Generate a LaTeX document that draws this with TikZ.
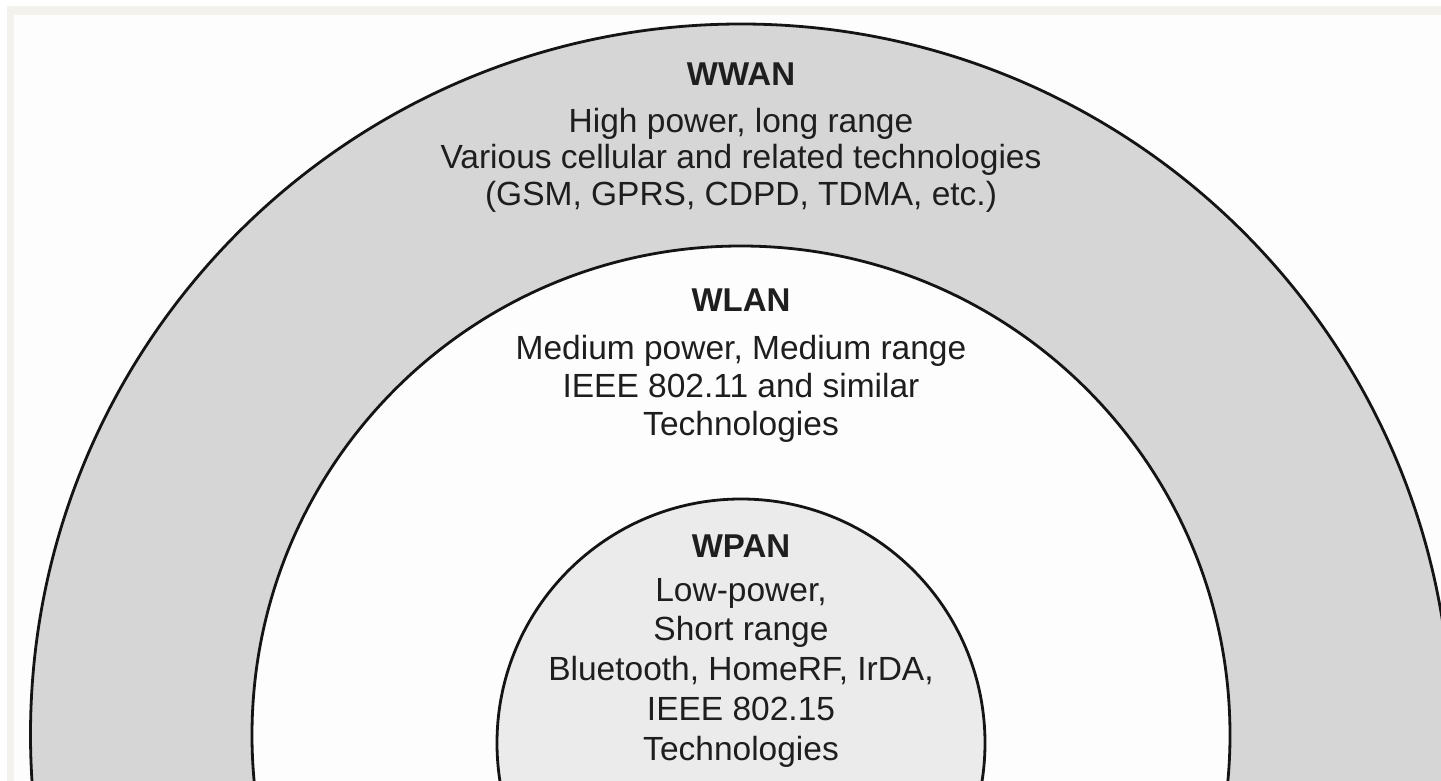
\documentclass[tikz,border=0pt]{standalone}
\usepackage{fontspec}
\setmainfont{Liberation Sans}
\definecolor{framebeige}{HTML}{F3F2ED}
\definecolor{paper}{HTML}{FDFDFD}
\definecolor{ringgray}{HTML}{D6D6D6}
\definecolor{coregray}{HTML}{EBEBEB}
\definecolor{ink}{HTML}{1E1E1E}
\begin{document}
\begin{tikzpicture}[x=1pt,y=-1pt,
  ring/.style={line width=2.8pt, draw=black!92},
  txt/.style={anchor=base, inner sep=0pt, text=ink, font=\fontsize{33.5}{40}\selectfont},
  ttl/.style={txt, font=\fontsize{33}{40}\selectfont\bfseries}]
\useasboundingbox (0,0) rectangle (1441,781);
% page and frame
\fill[white] (0,0) rectangle (1441,781);
\fill[framebeige] (7,6) rectangle (1441,781);
\fill[paper] (14,15) rectangle (1441,781);
% the three coverage zones
\begin{scope}
  \clip (14,15) rectangle (1441,781);
  \filldraw[ring, fill=ringgray] (741,734.5) circle[radius=710.5pt];
  \filldraw[ring, fill=paper] (741,735) circle[radius=489pt];
  \filldraw[ring, fill=coregray] (741,743) circle[radius=244pt];
\end{scope}
% WWAN
\node[ttl] (wwan)  at (741,86)  {WWAN};
\node[txt] (wwan1) at (741,133) {High power, long range};
\node[txt] (wwan2) at (741,169) {Various cellular and related technologies};
\node[txt] (wwan3) at (741,205) {(GSM, GPRS, CDPD, TDMA, etc.)};
% WLAN
\node[ttl] (wlan)  at (741,311) {WLAN};
\node[txt] (wlan1) at (741,359) {Medium power, Medium range};
\node[txt] (wlan2) at (741,397) {IEEE 802.11 and similar};
\node[txt] (wlan3) at (741,435) {Technologies};
% WPAN
\node[ttl] (wpan)  at (741,557) {WPAN};
\node[txt] (wpan1) at (741,601) {Low-power,};
\node[txt] (wpan2) at (741,640) {Short range};
\node[txt] (wpan3) at (741,680) {Bluetooth, HomeRF, IrDA,};
\node[txt] (wpan4) at (741,720) {IEEE 802.15};
\node[txt] (wpan5) at (741,760) {Technologies};
\end{tikzpicture}
\end{document}
